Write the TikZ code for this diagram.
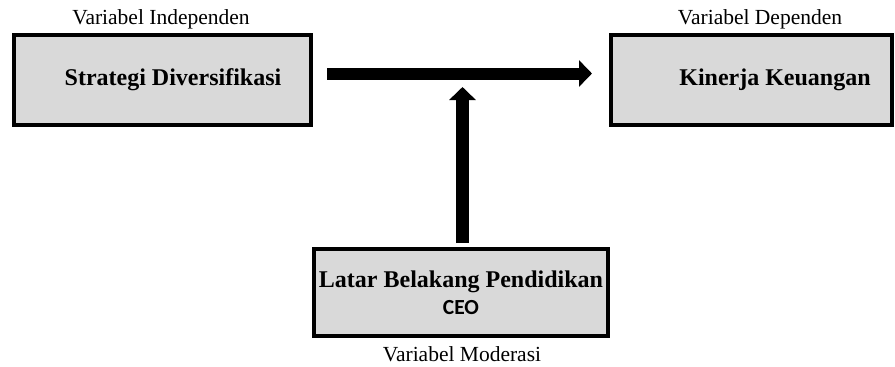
\documentclass[tikz,border=0pt]{standalone}
\usepackage{fontspec}
\setmainfont{Liberation Serif}
\newfontfamily\carlitofont{Carlito}
\usetikzlibrary{arrows.meta}
\tikzstyle{var}=[shape=rectangle,
                 draw=black,
                 fill=black!15,
                 line width=4pt,
                 font=\fontsize{24}{27}\selectfont\bfseries,
                 align=center]
\tikzstyle{lab}=[font=\fontsize{21.5}{24}\selectfont]
\tikzstyle{fat}=[line width=12pt,
                 -{Triangle[width=26pt,length=13pt]}]

\begin{document}
\begin{tikzpicture}[x=1pt,y=-1pt]
\useasboundingbox (0,0) rectangle (895,367);

% variables
\node[var,minimum width=297pt,minimum height=90pt] (div) at (162.5,80)
  {\hspace*{21pt}Strategi Diversifikasi};
\node[var,minimum width=281pt,minimum height=90pt] (kin) at (751.5,80)
  {\hspace*{47pt}Kinerja Keuangan};
\node[var,minimum width=294pt,minimum height=87pt] (ceo) at (461,292.5)
  {Latar Belakang Pendidikan\\{\carlitofont\fontsize{21.5}{27}\selectfont CEO}};

% labels
\node[lab] (lind) at (161,19)  {Variabel Independen};
\node[lab] (ldep) at (760,19)  {Variabel Dependen};
\node[lab] (lmod) at (462,354) {Variabel Moderasi};

% paths
\coordinate (tip) at (462.5,87);
\draw[fat,shorten <=14pt,shorten >=17pt] ([yshift=6.5pt]div.east) -- ([yshift=6.5pt]kin.west);
\draw[fat,line width=13pt,shorten <=4pt] (ceo.north -| tip) -- (tip);

\end{tikzpicture}
\end{document}
